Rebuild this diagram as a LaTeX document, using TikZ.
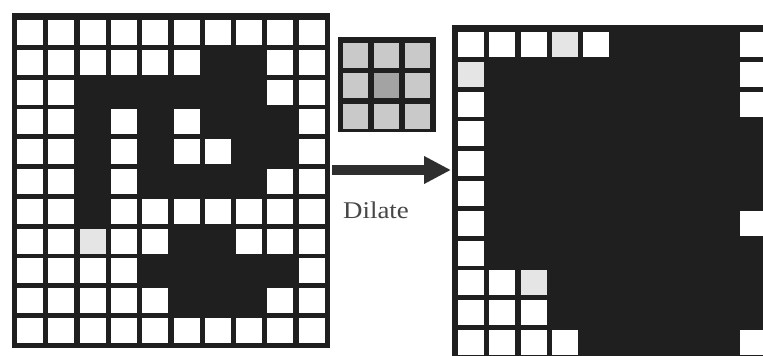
\documentclass[tikz,border=0pt]{standalone}
\usepackage{fontspec}
\setmainfont{Liberation Serif}
\usetikzlibrary{arrows.meta}

\begin{document}
\begin{tikzpicture}[x=1pt,y=-1pt]
	\tikzset{cell/.style={rectangle, draw=none, fill=white, inner sep=0pt, minimum width=26pt, minimum height=25pt},
	         grain/.style={cell, fill=black!10},
	         kercell/.style={rectangle, draw=none, inner sep=0pt, minimum width=25pt, minimum height=25pt},
	         board/.style={fill=black!88}}
	\useasboundingbox (0,0) rectangle (763,356);
	\clip (0,0) rectangle (763,356);

	%---INPUT GRID---	 
	\fill[board] (12,13) rectangle (330,348);
	\foreach \bits [count=\r] in {{0,0,0,0,0,0,0,0,0,0},{0,0,0,0,0,0,1,1,0,0},{0,0,1,1,1,1,1,1,0,0},
	        {0,0,1,0,1,0,1,1,1,0},{0,0,1,0,1,0,0,1,1,0},{0,0,1,0,1,1,1,1,0,0},{0,0,1,0,0,0,0,0,0,0},
	        {0,0,2,0,0,1,1,0,0,0},{0,0,0,0,1,1,1,1,1,0},{0,0,0,0,0,1,1,1,0,0},{0,0,0,0,0,0,0,0,0,0}}{
	    \foreach \b [count=\c] in \bits {
	        \ifnum\b=0 \node[cell] (in-\r-\c) at ({30+31.3*(\c-1)},{32.5+29.8*(\r-1)}) {}; \fi
	        \ifnum\b=2 \node[grain] (in-\r-\c) at ({30+31.3*(\c-1)},{32.5+29.8*(\r-1)}) {}; \fi
	    }
	}

	%---KERNEL---	 
	\fill[board] (338,37) rectangle (436,132);
	\foreach \r in {1,2,3}{
	    \foreach \c in {1,2,3}{
	        \ifnum\r\c=22 \def\kfill{black!36}\else\def\kfill{black!21}\fi
	        \node[kercell, fill=\kfill] (k-\r-\c) at ({355.5+31*(\c-1)},{55+30.5*(\r-1)}) {};
	    }
	}

	%---OUTPUT GRID---	 
	\fill[board] (452,25) rectangle (772,362);
	\foreach \bits [count=\r] in {{0,0,0,2,0,1,1,1,1,0},{2,1,1,1,1,1,1,1,1,0},{0,1,1,1,1,1,1,1,1,0},
	        {0,1,1,1,1,1,1,1,1,1},{0,1,1,1,1,1,1,1,1,1},{0,1,1,1,1,1,1,1,1,1},{0,1,1,1,1,1,1,1,1,0},
	        {0,1,1,1,1,1,1,1,1,1},{0,0,2,1,1,1,1,1,1,1},{0,0,0,1,1,1,1,1,1,1},{0,0,0,0,1,1,1,1,1,0}}{
	    \foreach \b [count=\c] in \bits {
	        \ifnum\b=0 \node[cell] (out-\r-\c) at ({471+31.3*(\c-1)},{44.5+29.8*(\r-1)}) {}; \fi
	        \ifnum\b=2 \node[grain] (out-\r-\c) at ({471+31.3*(\c-1)},{44.5+29.8*(\r-1)}) {}; \fi
	    }
	}

	%---ARROW---	 
	\coordinate (from) at (332,170);
	\coordinate (to) at (451,170);
	\draw[-{Triangle[length=27pt,width=26pt]}, line width=10pt, black!82] (from) -- (to);

	\node[font=\fontsize{24}{24}\selectfont, text=black!72, anchor=base, xscale=1.12, inner sep=0pt] (dilatelabel) at (376,218) {Dilate};
\end{tikzpicture}
\end{document}
